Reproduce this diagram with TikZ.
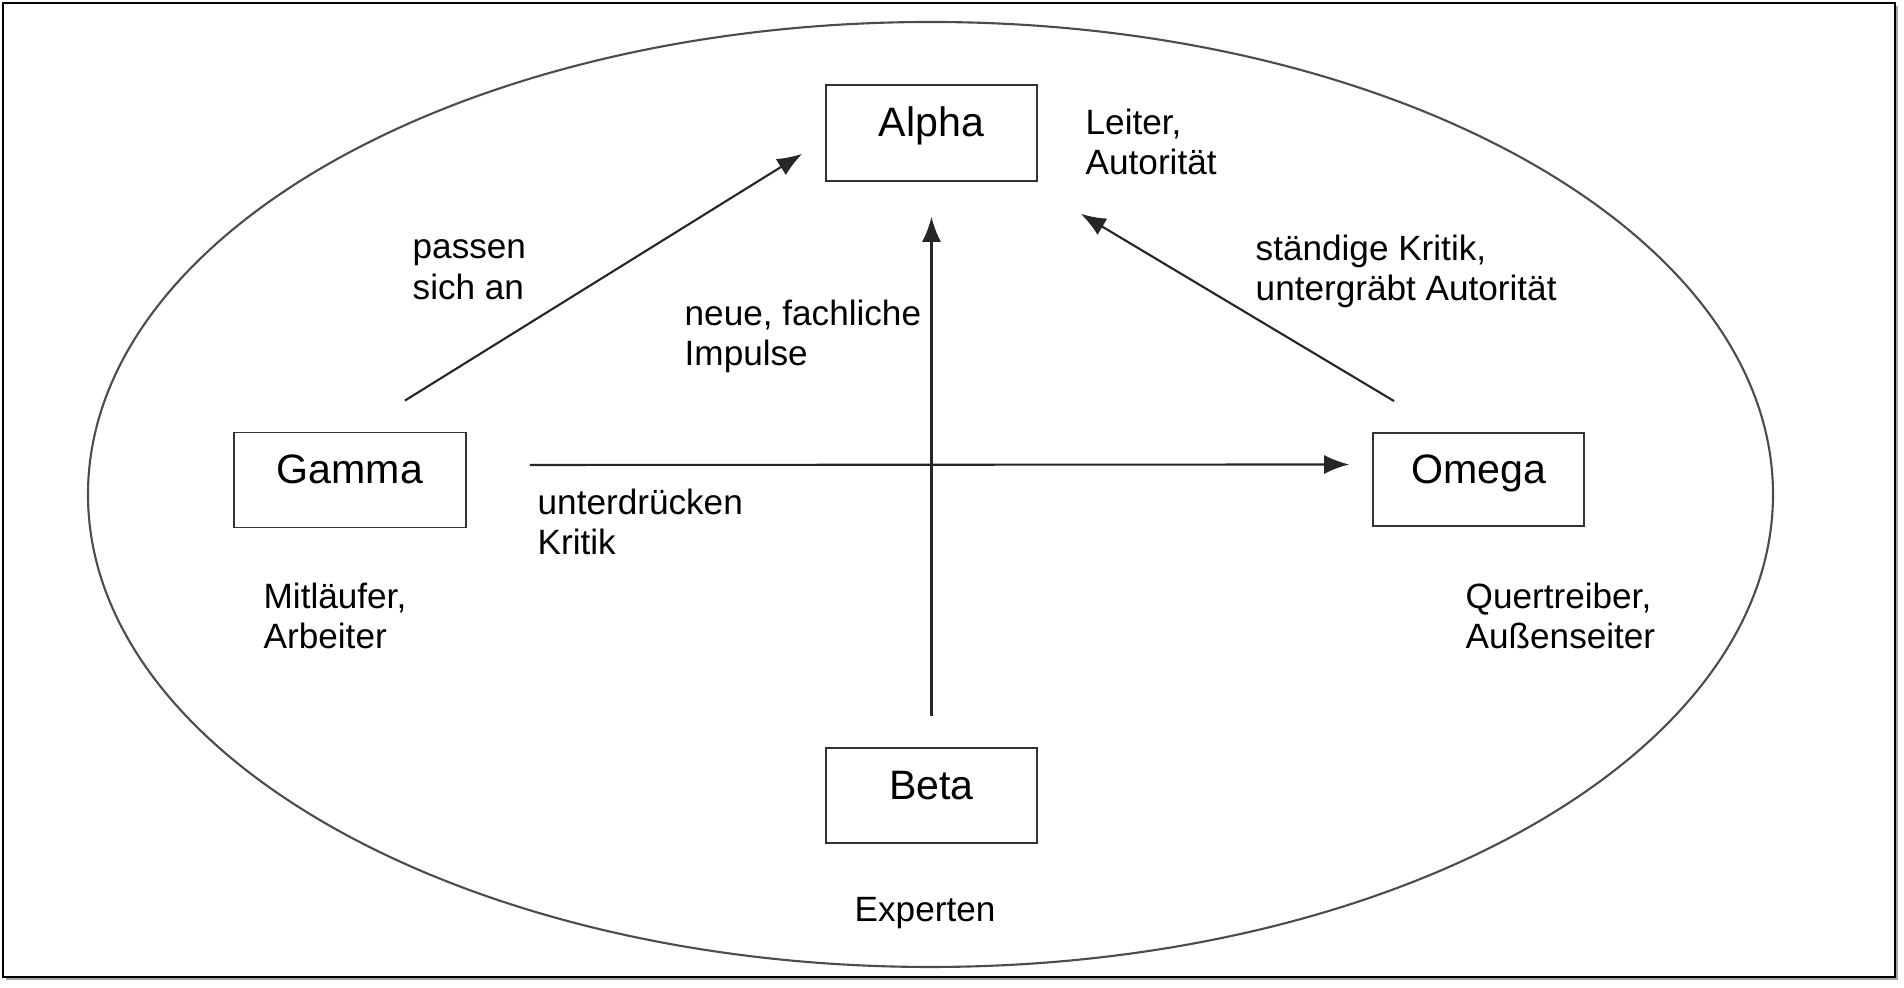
\documentclass[tikz,border=0pt]{standalone}
\usepackage{fontspec}
\setmainfont{Liberation Sans}
\usetikzlibrary{arrows.meta}

\begin{document}
\begin{tikzpicture}[>={Latex[length=2.5mm, width=1.9mm]},
        box/.style={draw=black!80, line width=0.5pt, inner sep=0pt,
                    minimum width=2.11cm, minimum height=0.95cm,
                    font=\fontsize{11.7}{14}\selectfont,
                    text height=0.3cm, text depth=0.22cm},
        lbl/.style={anchor=north west, inner sep=0pt, align=left,
                    font=\fontsize{10}{11.6}\selectfont,
                    execute at begin node=\strut},
        conn/.style={->, draw=black!85, line width=0.6pt}
       ]
\useasboundingbox (0,0) rectangle (19.04,9.88);

% frame with shadow
\fill[black!35] (0.06,0.08) rectangle (18.98,9.82);
\draw[fill=white, line width=0.6pt] (0.03,0.11) rectangle (18.95,9.85);

\draw[black!70, line width=0.6pt] (9.305,4.935) ellipse [x radius=8.425, y radius=4.725];

\node[box, minimum height=0.96cm] (alpha) at (9.315,8.55) {Alpha};
\node[box, minimum width=2.32cm] (gamma) at (3.50,5.08) {Gamma};
\node[box, minimum height=0.93cm] (omega) at (14.785,5.085) {Omega};
\node[box] (beta) at (9.315,1.925) {Beta};

\node[lbl] (lalpha) at (10.85,8.80) {Leiter,\\Autorität};
\node[lbl] (lgamma) at (2.63,4.06) {Mitläufer,\\Arbeiter};
\node[lbl] (lomega) at (14.65,4.06) {Quertreiber,\\Außenseiter};
\node[lbl] (lbeta) at (8.54,0.96) {Experten};

\node[lbl] (lpass) at (4.12,7.49) {passen\\sich an};
\node[lbl] (limp) at (6.84,6.89) {neue, fachliche\\Impulse};
\node[lbl] (lkrit) at (12.55,7.54) {ständige Kritik,\\untergräbt Autorität};
\node[lbl] (lunter) at (5.37,5.00) {unterdrücken\\Kritik};

\draw[conn] ([xshift=-6.2mm, yshift=3.1mm]gamma.north east) -- ([xshift=-2.3mm, yshift=2.8mm]alpha.south west);
\draw[conn] ([yshift=3.1mm]beta.north) -- ([yshift=-3.5mm]alpha.south);
\draw[conn] ([xshift=2.2mm, yshift=3.1mm]omega.north west) -- ([xshift=4.3mm, yshift=-3.2mm]alpha.south east);
\draw[conn] ([xshift=6.3mm, yshift=1.5mm]gamma.east) -- ([xshift=-2.3mm, yshift=1.5mm]omega.west);

\end{tikzpicture}
\end{document}
